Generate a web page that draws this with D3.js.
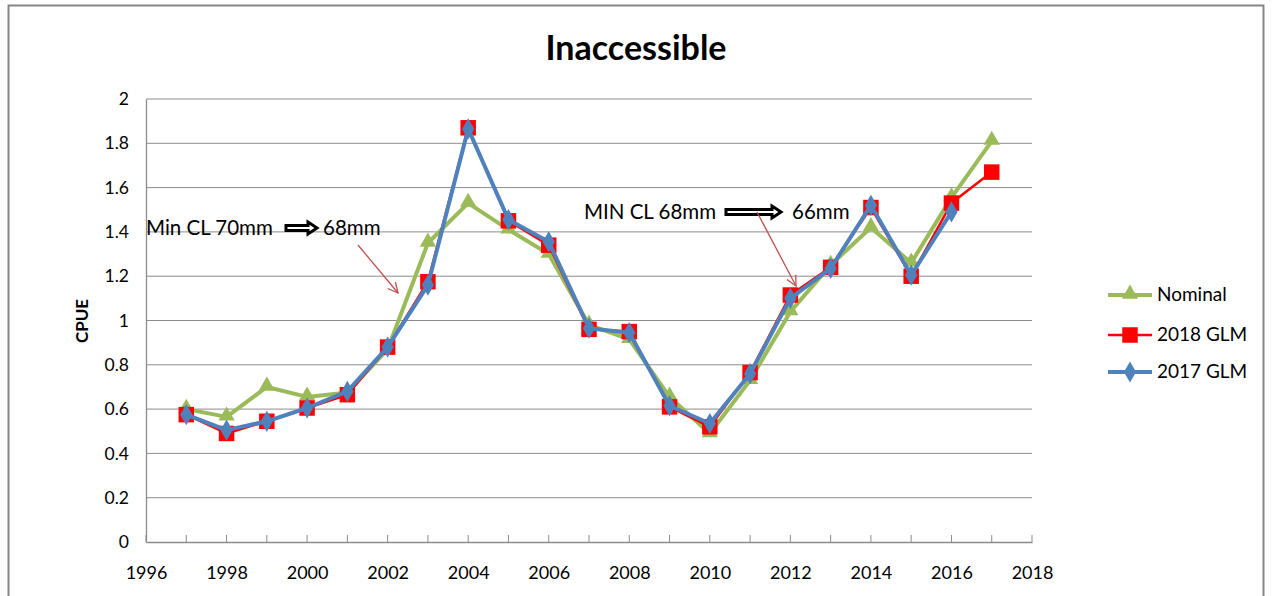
<!DOCTYPE html>
<html><head><meta charset="utf-8">
<script src="https://cdn.jsdelivr.net/npm/d3@7"></script>
<style>body{margin:0;background:#fff;} svg{display:block;font-family:Lato,"Open Sans",sans-serif;}</style>
</head><body>
<svg id="c" width="1272" height="596"></svg>
<script>
const years = [1997,1998,1999,2000,2001,2002,2003,2004,2005,2006,2007,2008,2009,2010,2011,2012,2013,2014,2015,2016,2017];
const nominal = [0.60,0.565,0.70,0.655,0.675,0.87,1.35,1.53,1.41,1.30,0.98,0.915,0.655,0.49,0.73,1.04,1.25,1.42,1.26,1.555,1.81];
const glm2018 = [0.575,0.49,0.545,0.605,0.665,0.88,1.175,1.87,1.45,1.34,0.96,0.95,0.61,0.52,0.765,1.115,1.24,1.51,1.20,1.53,1.67];
const glm2017 = [0.575,0.505,0.545,0.605,0.68,0.88,1.16,1.865,1.455,1.355,0.965,0.945,0.615,0.535,0.76,1.10,1.235,1.52,1.205,1.49,null];
const xTicks = [1996,1998,2000,2002,2004,2006,2008,2010,2012,2014,2016,2018];
const yTicks = [0,0.2,0.4,0.6,0.8,1,1.2,1.4,1.6,1.8,2];
const seriesNames = ["Nominal","2018 GLM","2017 GLM"];
const title = "Inaccessible";
const yLabel = "CPUE";

const svg = d3.select("#c");
svg.append("rect").attr("x",8.5).attr("y",5.5).attr("width",1255).attr("height",620)
  .attr("fill","#fff").attr("stroke","#868686").attr("stroke-width",2);

const x = d3.scaleLinear().domain([1996,2018]).range([146,1032]);
const y = d3.scaleLinear().domain([0,2]).range([542,99]);

// gridlines
svg.append("g").selectAll("line").data(yTicks.filter(d=>d>0)).join("line")
  .attr("x1",146).attr("x2",1032).attr("y1",d=>y(d)).attr("y2",d=>y(d))
  .attr("stroke","#8c8c8c").attr("stroke-width",1);

// axes
const xAxis = d3.axisBottom(x).tickValues(xTicks).tickFormat(d3.format("d")).tickSize(0).tickPadding(24);
const gx = svg.append("g").attr("transform",`translate(0,${y(0)})`).call(xAxis);
gx.select(".domain").attr("stroke","#8c8c8c").attr("stroke-width",1.3);
gx.selectAll("text").attr("font-size",18).attr("fill","#000").attr("font-family","Lato,sans-serif");
// minor ticks each year, pointing up
svg.append("g").selectAll("line").data(d3.range(1996,2019)).join("line")
  .attr("x1",d=>x(d)).attr("x2",d=>x(d)).attr("y1",y(0)).attr("y2",y(0)-7)
  .attr("stroke","#8c8c8c").attr("stroke-width",1);

const yAxis = d3.axisLeft(y).tickValues(yTicks).tickFormat(d=>String(d)).tickSize(0).tickPadding(17);
const gy = svg.append("g").attr("transform",`translate(146,0)`).call(yAxis);
gy.select(".domain").attr("stroke","#8c8c8c").attr("stroke-width",1.3);
gy.selectAll("text").attr("font-size",17.5).attr("fill","#000").attr("font-family","Lato,sans-serif");

svg.append("text").attr("transform","translate(88,321) rotate(-90)").attr("text-anchor","middle")
  .attr("font-size",17).attr("font-weight","bold").text(yLabel);

svg.append("text").attr("x",636).attr("y",60).attr("text-anchor","middle")
  .attr("font-size",34).attr("font-weight","bold").text(title);

// series
const cfg = [
  {name:seriesNames[0], data:nominal, color:"#9BBB59", w:4, shape:"tri"},
  {name:seriesNames[1], data:glm2018, color:"#FF0000", w:2.5, shape:"sq"},
  {name:seriesNames[2], data:glm2017, color:"#4F81BD", w:4, shape:"dia"}
];
const sym = {
  tri: d3.symbol().type(d3.symbolTriangle).size(115),
  sq: d3.symbol().type(d3.symbolSquare).size(240),
  dia: d3.symbol().type(d3.symbolDiamond).size(130)
};
const line = d3.line().defined(d=>d[1]!=null).x(d=>x(d[0])).y(d=>y(d[1]));
cfg.forEach(s=>{
  const pts = years.map((yr,i)=>[yr,s.data[i]]);
  svg.append("path").datum(pts).attr("d",line).attr("fill","none")
    .attr("stroke",s.color).attr("stroke-width",s.w).attr("stroke-linejoin","round");
  svg.append("g").selectAll("path").data(pts.filter(d=>d[1]!=null)).join("path")
    .attr("d",sym[s.shape]).attr("fill",s.color)
    .attr("transform",d=>`translate(${x(d[0])},${y(d[1]) + (s.shape==="tri"?-1:0)})`);
});

// legend
const lg = svg.append("g");
cfg.forEach((s,i)=>{
  const ly = [295,335,372][i];
  lg.append("line").attr("x1",1108).attr("x2",1152).attr("y1",ly).attr("y2",ly)
    .attr("stroke",s.color).attr("stroke-width",s.w);
  lg.append("path").attr("d",sym[s.shape]).attr("fill",s.color)
    .attr("transform",`translate(1130,${ly + (s.shape==="tri"?-1:0)})`);
  lg.append("text").attr("x",1157).attr("y",ly+6).attr("font-size",19).text(s.name);
});

// annotations
function blockArrow(x0,x1,cy,bodyH,headH,headW){
  const bh=bodyH/2, hh=headH/2;
  return `M${x0},${cy-bh}L${x1-headW},${cy-bh}L${x1-headW},${cy-hh}L${x1},${cy}L${x1-headW},${cy+hh}L${x1-headW},${cy+bh}L${x0},${cy+bh}Z`;
}
svg.append("text").attr("x",146).attr("y",235).attr("font-size",20.5).text("Min CL 70mm");
svg.append("path").attr("d",blockArrow(286,317,228,5,12,9)).attr("fill","#fff").attr("stroke","#000").attr("stroke-width",3).attr("stroke-linejoin","miter");
svg.append("text").attr("x",323).attr("y",235).attr("font-size",20.5).text("68mm");

svg.append("text").attr("x",584).attr("y",219).attr("font-size",20.5).text("MIN CL 68mm");
svg.append("path").attr("d",blockArrow(726,781,212,5,12,9)).attr("fill","#fff").attr("stroke","#000").attr("stroke-width",3).attr("stroke-linejoin","miter");
svg.append("text").attr("x",792).attr("y",219).attr("font-size",20.5).text("66mm");

const defs = svg.append("defs");
defs.append("marker").attr("id","oh").attr("viewBox","0 0 12 12").attr("refX",11).attr("refY",6)
  .attr("markerWidth",12).attr("markerHeight",12).attr("markerUnits","userSpaceOnUse").attr("orient","auto")
  .append("path").attr("d","M1,1L11,6L1,11").attr("fill","none").attr("stroke","#C0504D").attr("stroke-width",1.3);
svg.append("line").attr("x1",358).attr("y1",245).attr("x2",398).attr("y2",293)
  .attr("stroke","#C0504D").attr("stroke-width",1.3).attr("marker-end","url(#oh)");
svg.append("line").attr("x1",757).attr("y1",212).attr("x2",796).attr("y2",286)
  .attr("stroke","#C0504D").attr("stroke-width",1.3).attr("marker-end","url(#oh)");
</script>
</body></html>
